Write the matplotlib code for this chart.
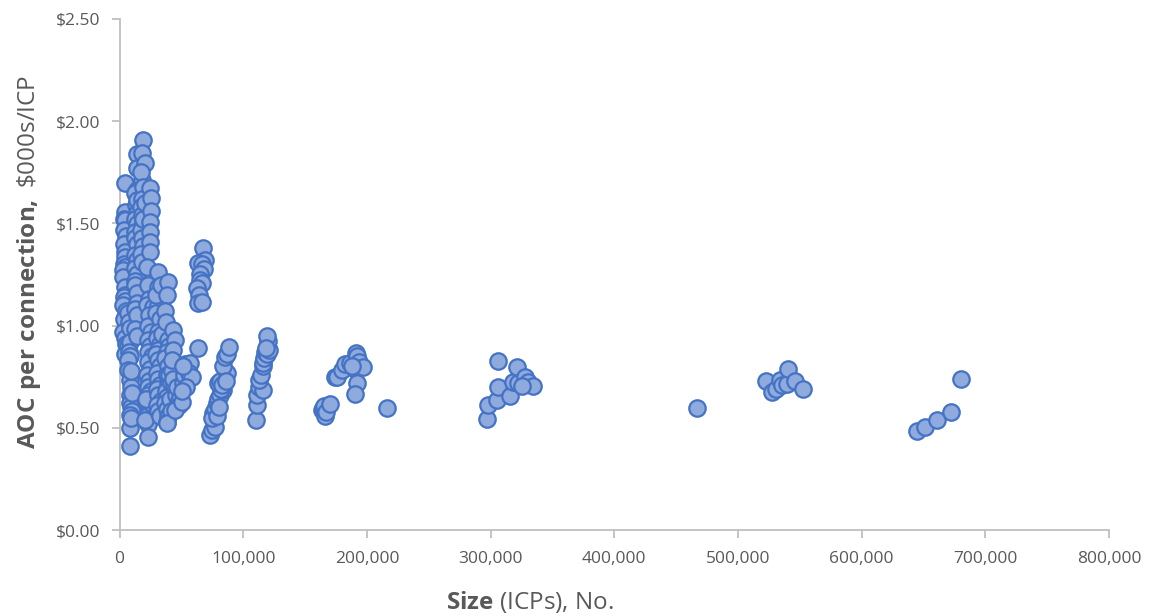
import matplotlib
matplotlib.use("Agg")
import matplotlib.pyplot as plt
from matplotlib.ticker import FuncFormatter

plt.rcParams['font.family'] = ['Open Sans', 'DejaVu Sans']
plt.rcParams['mathtext.fontset'] = 'custom'
plt.rcParams['mathtext.rm'] = 'Open Sans'
plt.rcParams['mathtext.bf'] = 'Open Sans:bold'

# ---- data: (size in ICPs, AOC per connection $000s/ICP) by cluster ----
size_a = [4400, 4400, 3600, 4400, 3600, 5000, 4400, 3600, 4400, 4400, 3600, 4400, 3100,
          3100, 4400, 4400, 3600, 4400, 3100, 5000, 3600, 3100, 4400, 5000, 4400]
aoc_a = [1.70, 1.557, 1.52, 1.517, 1.468, 1.44, 1.40, 1.40, 1.36, 1.337, 1.30, 1.288, 1.27,
         1.239, 1.19, 1.15, 1.14, 1.12, 1.10, 1.07, 1.03, 0.97, 0.94, 0.91, 0.86]

size_b = [7100, 7800, 8500, 7100, 8500, 7800, 8500, 7100, 7100, 8500, 9200, 8500, 9900,
          8500, 9200, 9900, 8500, 9900, 8500, 8500, 9200, 9900, 9200]
aoc_b = [1.06, 1.02, 0.99, 0.905, 0.92, 0.87, 0.85, 0.83, 0.783, 0.734, 0.70, 0.66, 0.64,
         0.62, 0.60, 0.58, 0.565, 0.538, 0.497, 0.411, 0.78, 0.67, 0.55]

size_c = [13900, 13900, 13900, 12500, 13300, 13900, 13900, 12500, 13900, 12500, 12500, 13900,
          12500, 13900, 12500, 13900, 12500, 12500, 13900, 13900, 12500, 13900, 12500, 13900]
aoc_c = [1.838, 1.77, 1.663, 1.65, 1.59, 1.614, 1.55, 1.52, 1.496, 1.46, 1.427, 1.40,
         1.345, 1.32, 1.28, 1.25, 1.22, 1.199, 1.16, 1.109, 1.08, 1.05, 0.982, 0.95]

size_d = [19300, 18400, 20600, 18400, 17500, 19300, 18400, 17500, 18400, 19300, 17500,
          18400, 19300, 17500, 18400, 19300, 20600]
aoc_d = [1.908, 1.843, 1.794, 1.712, 1.75, 1.68, 1.62, 1.58, 1.54, 1.50, 1.47,
         1.43, 1.39, 1.35, 1.31, 1.52, 1.60]

size_e = [24700, 25500, 25500, 24700, 24700, 24700, 24700, 22000, 23300, 24000, 22000, 27300,
          24000, 22700, 25500, 23300, 24700, 22700, 26000, 23300, 24700, 22000, 24000, 22700,
          25500, 23300, 24700, 26000, 22700, 24000, 22000, 23300, 23300, 25500, 21000, 20600]
aoc_e = [1.675, 1.626, 1.56, 1.508, 1.46, 1.41, 1.362, 1.288, 1.20, 1.13, 1.10, 1.092,
         1.05, 1.00, 0.97, 0.93, 0.90, 0.87, 0.85, 0.82, 0.79, 0.76, 0.73, 0.70,
         0.68, 0.66, 0.64, 0.611, 0.60, 0.58, 0.56, 0.52, 0.456, 0.62, 0.64, 0.54]

size_f = [31400, 31400, 31400, 29800, 32700, 31400, 30000, 32700, 31400, 29300, 31400, 32700,
          30000, 31400, 32700, 30000, 31400, 33500, 30000, 31400, 32700, 29300, 33500, 34200]
aoc_f = [1.264, 1.19, 1.10, 1.06, 1.03, 0.97, 0.94, 0.91, 0.88, 0.86, 0.832, 0.80,
         0.77, 0.74, 0.71, 0.69, 0.66, 0.63, 0.61, 0.58, 0.56, 1.15, 1.20, 0.96]

size_g = [39400, 38000, 36600, 37300, 39400, 40000, 38000, 36600, 39400, 38000, 39400, 37300,
          38700, 36600, 38000, 39400, 38000, 40000, 41500, 40700, 41500, 38200]
aoc_g = [1.215, 1.15, 1.07, 1.02, 0.93, 0.90, 0.87, 0.84, 0.80, 0.76, 0.709, 0.68,
         0.65, 0.62, 0.59, 0.56, 0.53, 0.76, 0.72, 0.64, 0.58, 0.522]

size_h = [43500, 44900, 43500, 42800, 44200, 45600, 47000, 48400, 49000, 43500, 46300, 42800,
          44900, 50300]
aoc_h = [0.978, 0.93, 0.88, 0.78, 0.71, 0.66, 0.62, 0.61, 0.65, 0.74, 0.70, 0.83,
         0.587, 0.628]

size_i = [51000, 52000, 53000, 55000, 57000, 56000, 58400, 54000, 50500, 51600]
aoc_i = [0.72, 0.76, 0.81, 0.79, 0.815, 0.77, 0.75, 0.70, 0.68, 0.80]

size_j = [67800, 69100, 63700, 66400, 68300, 65100, 65100, 67000, 62400, 64000, 63700, 66400, 63700]
aoc_j = [1.378, 1.321, 1.308, 1.30, 1.275, 1.25, 1.223, 1.21, 1.182, 1.15, 1.112, 1.117, 0.889]

size_k = [73200, 75000, 77200, 75800, 74500, 77000, 78500, 79000, 80000, 81000, 83900, 82000,
          79900, 81500, 84500, 86700, 83400, 85300, 87000, 88800, 80500, 82500, 86000]
aoc_k = [0.465, 0.49, 0.505, 0.571, 0.55, 0.59, 0.56, 0.62, 0.64, 0.66, 0.685, 0.69,
         0.718, 0.73, 0.72, 0.767, 0.80, 0.848, 0.86, 0.894, 0.60, 0.71, 0.73]

size_l = [110300, 111400, 111400, 113000, 116300, 113000, 114500, 116300, 116300, 117000,
          117600, 119000, 121100, 120300, 119500, 118500]
aoc_l = [0.538, 0.611, 0.660, 0.70, 0.685, 0.734, 0.76, 0.80, 0.815, 0.84,
         0.872, 0.86, 0.881, 0.926, 0.949, 0.89]

size_m = [163400, 164800, 166100, 165500, 167000, 170200, 174200, 176000, 179600, 182300,
          186300, 190400, 191200, 192200, 193900, 197100, 191700, 190400, 188000, 216500]
aoc_m = [0.587, 0.595, 0.558, 0.605, 0.575, 0.616, 0.75, 0.75, 0.783, 0.81,
         0.815, 0.786, 0.868, 0.851, 0.823, 0.799, 0.718, 0.665, 0.80, 0.595]

size_o = [296800, 298200, 304900, 306300, 305700, 315700, 318400, 321100, 322400, 327800,
          330500, 334500, 325100]
aoc_o = [0.541, 0.611, 0.636, 0.701, 0.828, 0.656, 0.726, 0.796, 0.718, 0.75,
         0.726, 0.704, 0.704]

size_q = [467100, 522400, 527200, 530700, 534000, 535300, 539900, 540700, 546000, 552300]
aoc_q = [0.595, 0.730, 0.674, 0.688, 0.734, 0.709, 0.714, 0.786, 0.730, 0.688]

size_r = [644400, 651200, 660600, 672000, 680300]
aoc_r = [0.486, 0.505, 0.538, 0.579, 0.737]

sizes = (size_a + size_b + size_c + size_d + size_e + size_f + size_g + size_h + size_i +
         size_j + size_k + size_l + size_m + size_o + size_q + size_r)
aocs = (aoc_a + aoc_b + aoc_c + aoc_d + aoc_e + aoc_f + aoc_g + aoc_h + aoc_i +
        aoc_j + aoc_k + aoc_l + aoc_m + aoc_o + aoc_q + aoc_r)

x_ticks = [0, 100000, 200000, 300000, 400000, 500000, 600000, 700000, 800000]
y_ticks = [0.0, 0.5, 1.0, 1.5, 2.0, 2.5]

# ---- figure ----
fig = plt.figure(figsize=(11.64, 6.16), dpi=100)
ax = fig.add_axes([0.1027, 0.1396, 0.8500, 0.8296])

ax.scatter(sizes, aocs, s=140, facecolor='#8faadc', edgecolor='#4472c4',
           linewidth=1.6, zorder=3, clip_on=False)

ax.set_xlim(0, 800000)
ax.set_ylim(0, 2.5)
ax.set_xticks(x_ticks)
ax.set_yticks(y_ticks)
ax.xaxis.set_major_formatter(FuncFormatter(lambda v, p: f"{int(v):,}"))
ax.yaxis.set_major_formatter(FuncFormatter(lambda v, p: f"${v:.2f}"))

for side in ['top', 'right']:
    ax.spines[side].set_visible(False)
for side in ['left', 'bottom']:
    ax.spines[side].set_color('#bfbfbf')
    ax.spines[side].set_linewidth(1.3)

ax.tick_params(axis='both', colors='#bfbfbf', labelcolor='#595959', labelsize=12.5,
               length=6, width=1.3, direction='out')
ax.tick_params(axis='y', pad=8)
ax.tick_params(axis='x', pad=9)

ax.set_xlabel(r"$\bf{Size}$ (ICPs), No.", fontsize=17.5, color='#595959')
ax.set_ylabel(r"$\bf{AOC\ per\ connection,}$ \$000s/ICP", fontsize=17.5, color='#595959')
ax.xaxis.set_label_coords(0.415, -0.115)
ax.yaxis.set_label_coords(-0.077, 0.524)

fig.savefig("out.png", dpi=100)
